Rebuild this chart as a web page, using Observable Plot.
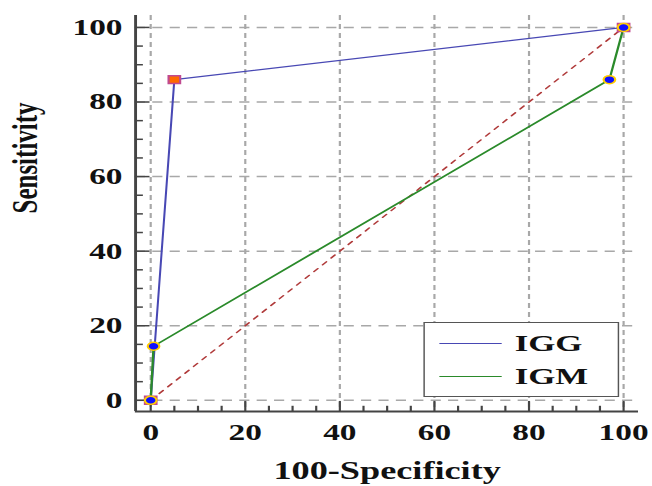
<!DOCTYPE html>
<html>
<head>
<meta charset="utf-8">
<script src="https://cdn.jsdelivr.net/npm/d3@7"></script>
<script src="https://cdn.jsdelivr.net/npm/@observablehq/plot@0.6"></script>
<style>
  html, body { margin: 0; padding: 0; background: #fff; overflow: hidden; }
  #wrap { position: relative; width: 450px; height: 486px; transform: scaleX(1.45); transform-origin: 0 0; }
  #legend { position: absolute; left: 292px; top: 322px; width: 135px; height: 75px; border: 1.5px solid #555; background: #fff; box-sizing: border-box;
    font-family: 'Liberation Serif', 'Times New Roman', serif; font-weight: bold; font-size: 24px; color: #111; }
  .row { position: absolute; left: 0; height: 28px; display: flex; align-items: center; }
  .sw { width: 43px; height: 0; margin-left: 10px; margin-right: 9px; }
</style>
</head>
<body>
<div id="wrap"></div>
<script>
// ROC data
const series = ["IGG", "IGM"];
const iggSpec = [0, 5, 100];
const iggSens = [0, 86, 100];
const igmSpec = [0, 0.6, 97, 100];
const igmSens = [0, 14.5, 86, 100];
const diagSpec = [0, 100];
const diagSens = [0, 100];
const majorTicks = [0, 20, 40, 60, 80, 100];
const minorTicks = [5, 10, 15, 25, 30, 35, 45, 50, 55, 65, 70, 75, 85, 90, 95];
const xLabel = "100-Specificity";
const yLabel = "Sensitivity";
const colors = {IGG: "#4848b4", IGM: "#2a8a2a"};

const igg = iggSpec.map((x, i) => ({x, y: iggSens[i]}));
const igm = igmSpec.map((x, i) => ({x, y: igmSens[i]}));
const diag = diagSpec.map((x, i) => ({x, y: diagSens[i]}));

const X0 = -3.2, Y0 = -3;
const font = "'Liberation Serif', 'Times New Roman', serif";

const chart = Plot.plot({
  width: 450,
  height: 486,
  marginLeft: 93,
  marginRight: 10,
  marginTop: 15,
  marginBottom: 75,
  x: {domain: [X0, 103.2]},
  y: {domain: [Y0, 103.2]},
  style: {fontFamily: font, background: "#fff"},
  marks: [
    Plot.ruleX(majorTicks, {stroke: "#a8a8a8", strokeWidth: 1.5, strokeDasharray: "5,4"}),
    Plot.ruleY(majorTicks, {stroke: "#a8a8a8", strokeWidth: 1.5, strokeDasharray: "7,5"}),
    Plot.ruleY(majorTicks, {x1: X0, x2: X0 + 3.1, stroke: "#444", strokeWidth: 1.5}),
    Plot.ruleY(minorTicks, {x1: X0, x2: X0 + 1.7, stroke: "#444", strokeWidth: 1.5}),
    Plot.ruleX(majorTicks, {y1: Y0, y2: Y0 + 2.7, stroke: "#444", strokeWidth: 1.5}),
    Plot.ruleX(minorTicks, {y1: Y0, y2: Y0 + 1.4, stroke: "#444", strokeWidth: 1.5}),
    Plot.ruleX([X0], {stroke: "#444", strokeWidth: 2}),
    Plot.ruleY([Y0], {stroke: "#444", strokeWidth: 2}),
    Plot.line(diag, {x: "x", y: "y", stroke: "#b03a3a", strokeWidth: 1.3, strokeDasharray: "4,5"}),
    Plot.line(igg, {x: "x", y: "y", stroke: colors.IGG, strokeWidth: 1.4}),
    Plot.line(igm, {x: "x", y: "y", stroke: colors.IGM, strokeWidth: 1.6}),
    Plot.dot(igg, {x: "x", y: "y", symbol: "square", r: 4.5, fill: "#ff6a00", stroke: "#c04a90", strokeWidth: 1.5}),
    Plot.dot(igm, {x: "x", y: "y", r: 4, fill: "#1010ff", stroke: "#ffcc00", strokeWidth: 1.5}),
    Plot.axisY(majorTicks, {tickSize: 0, tickPadding: 9, fontSize: 23, fontWeight: "bold", fill: "#111", label: null}),
    Plot.axisX(majorTicks, {tickSize: 0, tickPadding: 12, fontSize: 23, fontWeight: "bold", fill: "#111", label: null}),
    Plot.text([xLabel], {frameAnchor: "bottom", dy: 59, lineAnchor: "middle", fontSize: 25, fontWeight: "bold", fill: "#111"}),
    Plot.text([yLabel], {frameAnchor: "left", dx: -76, rotate: -90, lineAnchor: "middle", fontSize: 25, fontWeight: "bold", fill: "#111"})
  ]
});

const wrap = document.getElementById("wrap");
wrap.appendChild(chart);

const legend = document.createElement("div");
legend.id = "legend";
series.forEach((s, i) => {
  const row = document.createElement("div");
  row.className = "row";
  row.style.top = (6 + i * 33) + "px";
  const sw = document.createElement("span");
  sw.className = "sw";
  sw.style.borderTop = "1.5px solid " + colors[s];
  const t = document.createElement("span");
  t.textContent = s;
  row.appendChild(sw);
  row.appendChild(t);
  legend.appendChild(row);
});
wrap.appendChild(legend);
</script>
</body>
</html>
